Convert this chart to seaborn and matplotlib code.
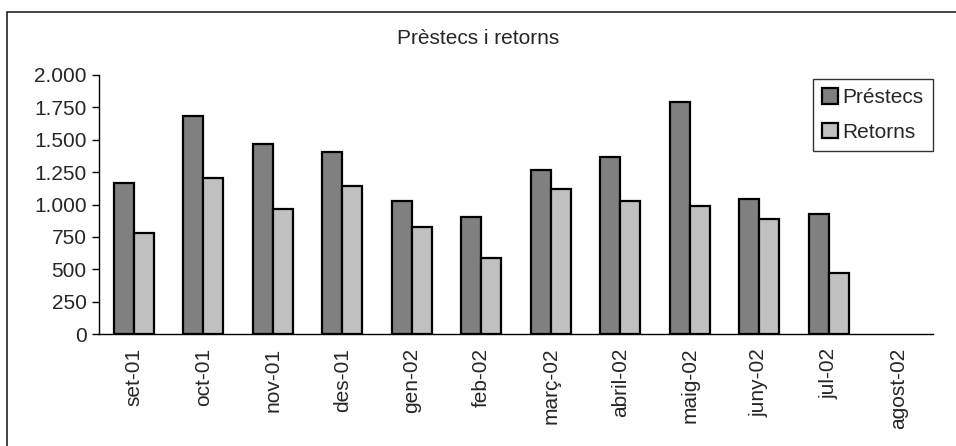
import numpy as np
import pandas as pd
import matplotlib
matplotlib.use("Agg")
import matplotlib.pyplot as plt
import seaborn as sns
from matplotlib.patches import Rectangle
from matplotlib.ticker import FuncFormatter, MultipleLocator

# dades llegides del grafic (agost-02 buit)
mesos = ["set-01", "oct-01", "nov-01", "des-01", "gen-02", "feb-02",
         "març-02", "abril-02", "maig-02", "juny-02", "jul-02", "agost-02"]
prestecs = [1165, 1682, 1470, 1403, 1028, 907, 1263, 1364, 1788, 1046, 928, np.nan]
retorns = [780, 1204, 969, 1145, 829, 587, 1116, 1025, 992, 886, 473, np.nan]

df = pd.DataFrame({"mes": mesos * 2,
                   "valor": prestecs + retorns,
                   "serie": ["Préstecs"] * len(mesos) + ["Retorns"] * len(mesos)})

sns.set_style("white")
plt.rcParams["font.family"] = ["Liberation Sans", "DejaVu Sans"]

fig = plt.figure(figsize=(9.56, 4.46), dpi=100)
ax = fig.add_axes([99 / 956, 1 - 334 / 446, (933 - 99) / 956, (334 - 75) / 446])

sns.barplot(data=df, x="mes", y="valor", hue="serie", order=mesos,
            palette=["#808080", "#c0c0c0"], width=0.58, edgecolor="black",
            linewidth=1.6, errorbar=None, ax=ax)

ax.set_xlim(-0.5, len(mesos) - 0.5)
ax.set_ylim(0, 2000)
ax.yaxis.set_major_locator(MultipleLocator(250))
ax.yaxis.set_major_formatter(FuncFormatter(lambda v, p: f"{int(v):,}".replace(",", ".")))
ax.set_xlabel("")
ax.set_ylabel("")

# ticks entre categories, estil Excel
ax.set_xticks(np.arange(len(mesos)), labels=mesos, rotation=90, fontsize=15)
ax.set_xticks(np.arange(len(mesos) + 1) - 0.5, minor=True)
ax.tick_params(axis="x", which="major", length=0, pad=10)
ax.tick_params(axis="x", which="minor", length=5, width=1, color="black", direction="out")
ax.tick_params(axis="y", length=5, width=1, color="black", direction="out",
               labelsize=15, pad=4)
ax.tick_params(axis="both", bottom=True, left=True)

for s in ["top", "right"]:
    ax.spines[s].set_visible(False)
for s in ["left", "bottom"]:
    ax.spines[s].set_color("black")
    ax.spines[s].set_linewidth(1)

leg = ax.legend(loc="upper left", bbox_to_anchor=((813 - 99) / 834, (334 - 79) / 259),
                frameon=True, fancybox=False, fontsize=15, handlelength=0.75,
                handleheight=0.75, handletextpad=0.2, borderpad=0.45,
                labelspacing=0.75, borderaxespad=0)
leg.get_frame().set_edgecolor("black")
leg.get_frame().set_linewidth(1)

fig.text(0.5, 1 - 38 / 446, "Prèstecs i retorns", ha="center", va="center", fontsize=15)

# marc exterior (retallat a dreta i a baix)
fig.patches.append(Rectangle((7 / 956, -0.1), 1.2, 1.1 - 12 / 446,
                             transform=fig.transFigure, fill=False,
                             edgecolor="#222222", linewidth=1.2))

fig.savefig("out.png", dpi=100)
